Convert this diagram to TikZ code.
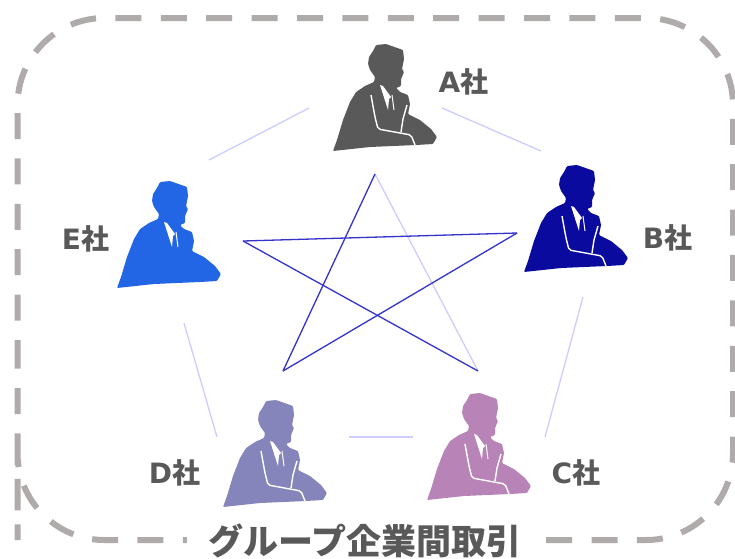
\documentclass[tikz,border=0pt]{standalone}
\usepackage{fontspec}
\setmainfont{DejaVu Sans}
\newfontfamily\cjkfont{Noto Sans CJK JP}
\definecolor{framecolor}{RGB}{175,171,171}
\definecolor{textcolor}{RGB}{89,89,89}
\definecolor{lightline}{RGB}{204,204,255}
\definecolor{darkline}{RGB}{51,51,204}
\definecolor{mancolorA}{RGB}{89,89,89}
\definecolor{mancolorB}{RGB}{10,10,158}
\definecolor{mancolorC}{RGB}{184,132,184}
\definecolor{mancolorD}{RGB}{133,133,187}
\definecolor{mancolorE}{RGB}{34,102,230}
\tikzset{
  pics/manbody/.style={code={
    \fill[#1,rounded corners=1pt] (0,0) -- (4,11) -- (10,31) -- (17,49) -- (23,59) -- (32,65) -- (41,69)
      -- (42,74) -- (37,81) -- (35,87) -- (36,94) -- (40,100) -- (43,106) -- (53,107) -- (70,101) -- (71,92)
      -- (69,82) -- (71,79) -- (68,72) -- (68,65) -- (63,63) -- (67,59) -- (75,56) -- (77,47) -- (75,37) -- (87,31)
      -- (98,22) -- (104,14) -- (100,7) -- (83,6) -- (37,4) -- cycle;
    \fill[white] (47,66) -- (55,41) -- (56,52) -- (58,54) -- (50,65) -- cycle;
    \draw[white,line width=1pt] (59,56) -- (61,41);
  }},
  pics/manlapel/.style={code={
    \draw[white,line width=1.4pt,rounded corners=2pt] (38,56) -- (42,34) -- (45,22) -- (78,16) -- (82,6);
    \draw[white,line width=1.4pt] (74,46) -- (70,32) -- (68,19);
  }}
}

\begin{document}
\begin{tikzpicture}[yscale=-1,x=1pt,y=1pt
,framestyle/.style={color=framecolor,line width=6pt,dash pattern=on 26pt off 19.4pt,rounded corners=87pt}
,lightstyle/.style={color=lightline,line width=1.3pt}
,darkstyle/.style={color=darkline,line width=1.3pt}
,corpstyle/.style={color=textcolor,font=\fontsize{28}{28}\selectfont\bfseries}
,titlestyle/.style={color=textcolor,fill=white,inner ysep=0pt,minimum width=358pt,font=\fontsize{35}{35}\selectfont\cjkfont\bfseries}
]
\useasboundingbox (0,0) rectangle (735,558);
\draw[framestyle] (17.5,453) -- (17.5,18) -- (733,18) -- (733,540) -- (17.5,540) -- cycle;
\node[titlestyle] (title) at (366,541) {\hspace*{-2pt}グループ企業間取引};

\pic at (333,151) {manbody=mancolorA};
\pic at (333,151) {manlapel};
\pic at (524,272) {manbody=mancolorB};
\pic at (524,272) {manlapel};
\pic at (427,500) {manbody=mancolorC};
\pic at (427,500) {manlapel};
\pic at (223,507) {manbody=mancolorD};
\pic at (223,507) {manlapel};
\pic at (117,288) {manbody=mancolorE};

\node[corpstyle] (corpA) at (463.5,82) {A{\cjkfont 社}};
\node[corpstyle] (corpB) at (667.5,238) {B{\cjkfont 社}};
\node[corpstyle] (corpC) at (576,473) {C{\cjkfont 社}};
\node[corpstyle] (corpD) at (174.5,473) {D{\cjkfont 社}};
\node[corpstyle] (corpE) at (85.5,239) {E{\cjkfont 社}};

\coordinate (starA) at (375,174);
\coordinate (starB) at (517,233);
\coordinate (starC) at (478,371);
\coordinate (starD) at (283,371);
\coordinate (starE) at (243,241);
\draw[lightstyle] (starA) -- (starC);
\draw[darkstyle] (starA) -- (starD);
\draw[darkstyle] (starD) -- (starB);
\draw[darkstyle] (starB) -- (starE);
\draw[darkstyle] (starE) -- (starC);

\coordinate (edgeAE1) at (309,108);
\coordinate (edgeAE2) at (209,160);
\coordinate (edgeAB1) at (442,108);
\coordinate (edgeAB2) at (541,151);
\coordinate (edgeBC1) at (583,297);
\coordinate (edgeBC2) at (545,437);
\coordinate (edgeCD1) at (413,437);
\coordinate (edgeCD2) at (349,437);
\coordinate (edgeDE1) at (217,437);
\coordinate (edgeDE2) at (184,323);
\draw[lightstyle] (edgeAE1) -- (edgeAE2);
\draw[lightstyle] (edgeAB1) -- (edgeAB2);
\draw[lightstyle] (edgeBC1) -- (edgeBC2);
\draw[lightstyle] (edgeCD1) -- (edgeCD2);
\draw[lightstyle] (edgeDE1) -- (edgeDE2);
\end{tikzpicture}
\end{document}
